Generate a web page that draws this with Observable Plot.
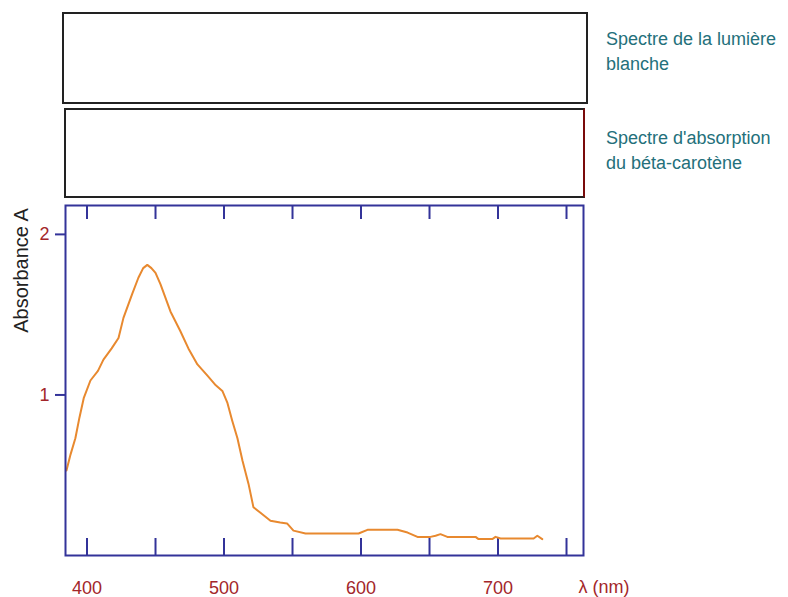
<!DOCTYPE html>
<html>
<head>
<meta charset="utf-8">
<script src="https://cdn.jsdelivr.net/npm/d3@7"></script>
<script src="https://cdn.jsdelivr.net/npm/@observablehq/plot@0.6"></script>
<style>
  html, body { margin: 0; padding: 0; background: #fff; }
  #wrap { position: relative; width: 788px; height: 597px; font-family: "Liberation Sans", Arial, sans-serif; }
  .box { position: absolute; box-sizing: border-box; border: 2px solid #222; background: #fff; }
  .lbl { position: absolute; color: #24707b; font-size: 18px; line-height: 25px; white-space: nowrap; }
  #chart { position: absolute; left: 0; top: 0; }
</style>
</head>
<body>
<div id="wrap">
  <div id="chart"></div>
  <div class="box" style="left:62px; top:12px; width:526px; height:92px;"></div>
  <div class="box" style="left:64px; top:108px; width:521px; height:90px; border-right-color:#7a0a0a;"></div>
  <div class="lbl" id="l1" style="left:606px; top:27px;"></div>
  <div class="lbl" id="l2" style="left:606px; top:126px;"></div>
</div>
<script>
// Absorption spectrum of beta-carotene
const wavelength = [385, 388, 391.5, 394.5, 397.6, 402.5, 408, 412, 418, 423, 426.6, 433, 437.5, 441, 444, 447, 450, 453.6, 460.9, 468, 474, 480.6, 487.9, 494, 498.8, 502.5, 506, 509.8, 513.5, 517.9, 521.5, 526.6, 533.9, 541, 546, 550.7, 559.5, 580, 598.2, 604.7, 615, 626.6, 634, 641.2, 650.7, 654.4, 658, 663, 675, 683.6, 685.8, 695.8, 698.2, 701.9, 715, 726, 728.7, 732.3];
const absorbance = [0.53, 0.63, 0.73, 0.86, 0.98, 1.09, 1.15, 1.22, 1.29, 1.355, 1.48, 1.63, 1.73, 1.79, 1.81, 1.79, 1.76, 1.69, 1.52, 1.40, 1.29, 1.19, 1.12, 1.06, 1.025, 0.95, 0.84, 0.73, 0.59, 0.446, 0.30, 0.266, 0.216, 0.205, 0.20, 0.155, 0.137, 0.137, 0.137, 0.16, 0.16, 0.16, 0.143, 0.116, 0.116, 0.123, 0.133, 0.116, 0.116, 0.116, 0.102, 0.102, 0.116, 0.106, 0.106, 0.106, 0.123, 0.102];

const xTicks = [400, 450, 500, 550, 600, 650, 700, 750];
const xLabels = [400, 500, 600, 700];
const yTicks = [1, 2];
const yLabel = "Absorbance A";
const xLabel = "λ (nm)";
const boxLabels = [["Spectre de la lumière", "blanche"], ["Spectre d'absorption", "du béta-carotène"]];

const navy = "#333399";
const tickRed = "#a3262a";
const orange = "#e8892f";

const data = wavelength.map((w, i) => ({w, a: absorbance[i]}));

const plot = Plot.plot({
  width: 788,
  height: 597,
  marginTop: 205,
  marginBottom: 42,
  marginLeft: 65,
  marginRight: 205,
  style: {fontFamily: "'Liberation Sans', Arial, sans-serif", background: "transparent"},
  x: {domain: [384.3, 762.4]},
  y: {domain: [0, 2.18]},
  marks: [
    Plot.axisX({anchor: "bottom", ticks: xTicks, tickSize: -17, stroke: navy, strokeWidth: 2, label: null, text: null}),
    Plot.axisX({anchor: "top", ticks: xTicks, tickSize: -13, stroke: navy, strokeWidth: 2, label: null, text: null}),
    Plot.axisX({anchor: "bottom", ticks: xLabels, tickSize: 0, tickPadding: 26, tickFormat: d3.format("d"), fill: tickRed, fontSize: 18, label: null}),
    Plot.axisY({anchor: "left", ticks: yTicks, tickSize: 10, tickPadding: 6, tickFormat: d3.format("d"), stroke: navy, strokeWidth: 2, fill: tickRed, fontSize: 18, label: null}),
    Plot.line(data, {x: "w", y: "a", stroke: orange, strokeWidth: 2}),
    Plot.frame({stroke: navy, strokeWidth: 2}),
    Plot.text([xLabel], {frameAnchor: "bottom-right", text: d => d, dx: 46, dy: 32, textAnchor: "end", lineAnchor: "middle", fill: tickRed, fontSize: 18}),
    Plot.text([yLabel], {frameAnchor: "top-left", text: d => d, dx: -44, dy: 65, rotate: -90, textAnchor: "middle", lineAnchor: "middle", fill: "#222", fontSize: 20})
  ]
});
document.getElementById("chart").appendChild(plot);
document.getElementById("l1").innerHTML = boxLabels[0].join("<br>");
document.getElementById("l2").innerHTML = boxLabels[1].join("<br>");
</script>
</body>
</html>
